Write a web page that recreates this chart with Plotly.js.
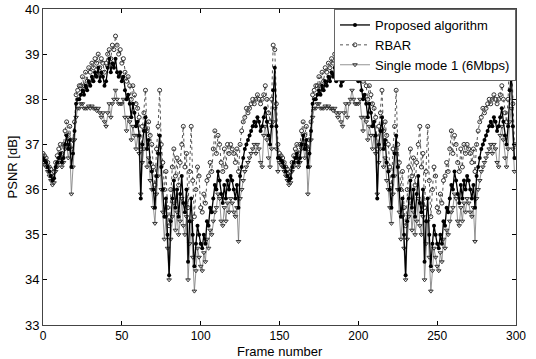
<!DOCTYPE html>
<html>
<head>
<meta charset="utf-8">
<script src="https://cdn.plot.ly/plotly-3.0.1.min.js"></script>
<style>html,body{margin:0;padding:0;background:#fff;}#chart{width:536px;height:359px;}</style>
</head>
<body>
<div id="chart"></div>
<script>
// One cycle of 150 frames (the sequence is looped twice in the source figure)
const proposedCycle = [
36.7,36.65,36.6,36.5,36.4,36.3,36.2,36.25,36.5,36.6,
36.7,36.8,36.6,36.7,37.0,37.2,36.9,37.1,36.5,36.8,
37.3,37.9,38.0,38.0,38.1,38.2,38.1,38.3,38.2,38.4,
38.3,38.5,38.4,38.6,38.5,38.7,38.4,38.6,38.5,38.3,
38.4,38.7,38.9,38.6,38.8,38.7,38.9,38.6,38.5,38.6,
38.4,38.5,38.2,38.0,38.1,37.9,37.6,37.9,37.7,37.4,
37.5,37.2,35.8,37.0,37.3,37.6,36.9,37.1,36.6,36.4,
36.0,35.6,36.3,36.8,37.2,36.5,36.0,35.4,35.8,35.0,
34.1,35.3,35.8,36.2,35.6,36.0,35.4,35.9,36.3,35.7,
35.5,36.0,34.4,35.3,35.8,35.0,34.3,34.8,35.2,35.0,
34.8,34.7,35.0,34.8,35.3,35.2,35.6,35.5,35.8,36.1,
36.0,36.4,36.2,35.9,35.7,36.1,35.8,36.2,36.0,36.3,
36.2,36.0,35.8,36.1,35.6,36.3,36.5,36.7,36.9,37.0,
37.1,37.2,37.3,37.4,37.5,37.4,37.6,37.5,37.3,37.4,
37.6,37.8,37.5,37.2,37.0,37.4,38.2,38.7,37.4,36.7];
const rbarCycle = [
36.8,36.75,36.7,36.6,36.5,36.45,36.3,36.4,36.6,36.75,
36.9,37.0,36.8,37.0,37.3,37.5,37.2,37.4,36.9,37.1,
37.5,38.1,38.2,38.3,38.3,38.5,38.3,38.6,38.4,38.7,
38.6,38.8,38.7,38.9,38.8,39.0,38.7,38.9,38.8,38.6,
38.8,39.0,39.1,38.9,39.2,39.1,39.4,39.2,39.0,39.1,
38.8,38.9,38.6,38.4,38.5,38.3,38.0,38.3,38.1,37.9,
37.8,37.6,36.9,37.4,37.7,38.2,37.3,37.5,37.2,37.0,
36.5,36.1,36.9,37.4,38.2,37.0,36.6,36.0,36.4,35.6,
35.2,36.0,36.5,36.9,36.3,36.7,36.1,36.6,37.0,37.4,
36.5,36.8,35.6,36.4,37.4,36.2,35.4,36.0,36.5,36.3,
35.6,35.5,35.9,35.7,36.2,36.3,36.6,36.4,36.9,37.3,
36.8,37.2,37.0,36.6,36.4,36.9,36.5,37.0,36.8,37.0,
36.9,36.8,36.6,36.9,36.4,37.0,37.3,37.5,37.6,37.8,
37.7,37.8,37.9,38.0,37.9,38.0,38.1,38.0,37.9,38.0,
38.1,38.3,38.0,37.7,37.5,38.0,39.2,39.1,37.9,37.0];
const singleCycle = [
36.6,36.55,36.5,36.4,36.3,36.2,36.1,36.15,36.4,36.5,
36.6,36.7,36.5,36.6,36.9,37.0,36.7,36.9,35.9,36.5,
37.1,37.6,37.8,37.8,37.9,37.9,37.8,37.8,37.8,37.85,
37.8,37.85,37.8,37.8,37.75,37.8,37.7,37.6,37.7,37.5,
37.4,37.7,37.9,37.6,37.9,38.0,38.2,38.0,37.9,37.9,
37.9,38.0,37.6,37.3,37.6,37.5,37.1,37.4,37.2,36.9,
37.2,36.8,35.9,36.6,36.9,37.3,36.5,36.7,36.2,36.0,
35.6,35.25,35.9,36.3,36.8,36.0,35.5,34.9,35.4,34.7,
34.0,34.9,35.4,35.7,35.1,35.5,35.0,35.3,35.8,35.2,
35.0,35.4,34.0,34.8,35.3,34.5,33.75,34.2,34.7,34.5,
34.3,34.2,34.6,34.4,34.9,34.7,35.1,35.0,35.3,35.5,
35.6,35.9,35.8,35.3,35.2,35.6,35.3,35.7,35.5,35.8,
35.7,35.5,35.4,35.6,34.85,35.8,36.0,36.2,36.4,36.5,
36.6,36.7,36.8,36.9,37.0,36.8,37.0,36.9,36.6,36.5,
37.2,37.4,37.1,36.7,36.5,36.9,37.5,37.8,36.9,36.4];

const proposed = proposedCycle.concat(proposedCycle);
const rbar = rbarCycle.concat(rbarCycle);
const single = singleCycle.concat(singleCycle);
const frames = proposed.map((_, i) => i);

const seriesNames = ['Proposed algorithm', 'RBAR', 'Single mode 1 (6Mbps)'];
const xTicks = [0, 50, 100, 150, 200, 250, 300];
const yTicks = [33, 34, 35, 36, 37, 38, 39, 40];

const traces = [
  {x: frames, y: rbar, name: seriesNames[1], legendrank: 2, mode: 'lines+markers',
   line: {color: '#555', width: 1, dash: 'dot'},
   marker: {symbol: 'circle-open', size: 4, color: '#333', line: {width: 1}}},
  {x: frames, y: single, name: seriesNames[2], legendrank: 3, mode: 'lines+markers',
   line: {color: '#777', width: 0.8},
   marker: {symbol: 'triangle-down-open', size: 4, color: '#333', line: {width: 1}}},
  {x: frames, y: proposed, name: seriesNames[0], legendrank: 1, mode: 'lines+markers',
   line: {color: '#000', width: 1.3},
   marker: {symbol: 'circle', size: 4, color: '#000'}}
];

const layout = {
  width: 536, height: 359,
  margin: {l: 43, r: 20, t: 9, b: 34},
  paper_bgcolor: '#fff', plot_bgcolor: '#fff',
  font: {family: 'Liberation Sans, Arial, sans-serif', size: 13, color: '#000'},
  showlegend: true,
  legend: {x: 1, y: 1, xanchor: 'right', yanchor: 'top', traceorder: 'normal',
    bgcolor: '#fff', bordercolor: '#666', borderwidth: 1,
    font: {size: 13}, tracegroupgap: 0},
  xaxis: {range: [0, 300], tickvals: xTicks, ticktext: xTicks.map(String),
    ticks: 'inside', ticklen: 4, tickcolor: '#000', showgrid: false, zeroline: false,
    tickfont: {size: 12}, ticklabelstandoff: 0,
    showline: true, linecolor: '#444', linewidth: 1, mirror: 'ticks', automargin: false},
  yaxis: {range: [33, 40], tickvals: yTicks, ticktext: yTicks.map(String),
    ticks: 'inside', ticklen: 4, tickcolor: '#000', showgrid: false, zeroline: false,
    tickfont: {size: 13},
    showline: true, linecolor: '#444', linewidth: 1, mirror: 'ticks',
    title: {text: 'PSNR [dB]', standoff: 4, font: {size: 13}}},
  annotations: [{text: 'Frame number', xref: 'paper', yref: 'paper', x: 0.5, y: -0.054,
    xanchor: 'center', yanchor: 'top', showarrow: false, font: {size: 13}}]
};

Plotly.newPlot('chart', traces, layout, {staticPlot: true, displayModeBar: false});
</script>
</body>
</html>
